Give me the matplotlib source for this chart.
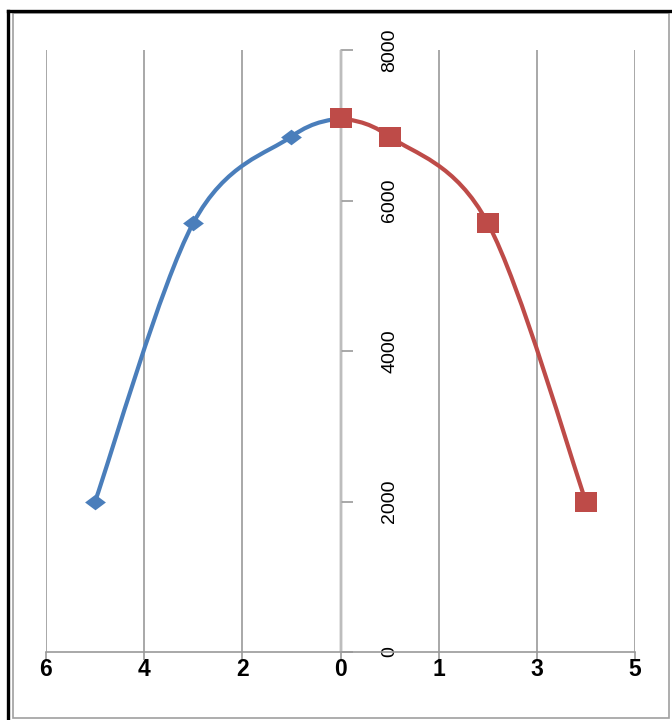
import matplotlib
matplotlib.use("Agg")
import matplotlib.pyplot as plt
from matplotlib.path import Path
from matplotlib.patches import PathPatch, Rectangle
from matplotlib.lines import Line2D
import numpy as np

# Data
left_x = [-5, -3, -1, 0]
left_y = [2000, 5700, 6850, 7100]
right_x = [0, 1, 3, 5]
right_y = [7100, 6850, 5700, 2000]

x_ticks = [-6, -4, -2, 0, 2, 4, 6]
x_tick_labels = ["6", "4", "2", "0", "1", "3", "5"]
y_ticks = [0, 2000, 4000, 6000, 8000]
y_tick_labels = ["0", "2000", "4000", "6000", "8000"]

BLUE = "#4A7EBB"
RED = "#BE4B48"
GRID = "#999999"

plt.rcParams["font.family"] = ["Liberation Sans", "DejaVu Sans"]


def smooth_path(xs, ys):
    """Catmull-Rom style smoothed path through the points (cubic Bezier segments)."""
    pts = np.column_stack([xs, ys]).astype(float)
    n = len(pts)
    ext = np.vstack([pts[0], pts, pts[-1]])
    verts = [tuple(pts[0])]
    codes = [Path.MOVETO]
    for i in range(n - 1):
        p0, p1, p2, p3 = ext[i], ext[i + 1], ext[i + 2], ext[i + 3]
        c1 = p1 + (p2 - p0) / 6.0
        c2 = p2 - (p3 - p1) / 6.0
        verts += [tuple(c1), tuple(c2), tuple(p2)]
        codes += [Path.CURVE4] * 3
    return Path(verts, codes)


fig = plt.figure(figsize=(6.72, 7.2), dpi=100)
W, H = 672.0, 720.0
ax = fig.add_axes([46 / W, 68 / H, 589 / W, 602 / H])
ax.set_xlim(-6, 6)
ax.set_ylim(0, 8000)

# vertical gridlines
for xv in x_ticks:
    if xv != 0:
        ax.axvline(xv, color=GRID, lw=1.2, zorder=1)

# spines: bottom axis line, vertical axis at x = 0
for s in ["top", "left"]:
    ax.spines[s].set_visible(False)
ax.spines["bottom"].set_color(GRID)
ax.spines["bottom"].set_linewidth(1.2)
ax.spines["right"].set_position(("data", 0))
ax.spines["right"].set_color("#b4b4b4")
ax.spines["right"].set_linewidth(1.1)
ax.axvline(0, color="#dedede", lw=2.6, zorder=0.9)

ax.set_xticks(x_ticks)
ax.set_xticklabels(x_tick_labels, fontsize=16.5, fontweight="bold")
ax.tick_params(axis="x", direction="out", length=6, width=1.2, color=GRID, pad=-2)

ax.yaxis.tick_right()
ax.set_yticks(y_ticks)
ax.set_yticklabels(y_tick_labels, fontsize=14, rotation=90, va="center")
ax.tick_params(axis="y", direction="out", length=8.5, width=1.2, color=GRID, pad=21)

# smoothed series
ax.add_patch(PathPatch(smooth_path(left_x, left_y), fill=False, edgecolor=BLUE,
                       lw=3.0, capstyle="round", joinstyle="round", zorder=3))
ax.add_patch(PathPatch(smooth_path(right_x, right_y), fill=False, edgecolor=RED,
                       lw=3.0, capstyle="round", joinstyle="round", zorder=4))

diamond = [(-1, 0), (0, 0.75), (1, 0), (0, -0.75), (-1, 0)]
square = [(-1, -0.85), (1, -0.85), (1, 0.85), (-1, 0.85), (-1, -0.85)]
ax.plot(left_x[:-1], left_y[:-1], linestyle="none", marker=diamond, markersize=15,
        color=BLUE, markeredgewidth=0, zorder=5)
ax.plot(right_x, right_y, linestyle="none", marker=square, markersize=16.5,
        color=RED, markeredgewidth=0, zorder=6)

# outer frame
fig.add_artist(Rectangle((13 / W, 2 / H), 656 / W, 705 / H, transform=fig.transFigure,
                         fill=False, edgecolor="#a0a0a0", lw=1.2))
fig.add_artist(Line2D([8 / W, 8 / W], [0, 709 / H], transform=fig.transFigure,
                      color="black", lw=2.4))
fig.add_artist(Line2D([8 / W, 1], [709 / H, 709 / H], transform=fig.transFigure,
                      color="black", lw=2.4))

fig.savefig("out.png", dpi=100)
